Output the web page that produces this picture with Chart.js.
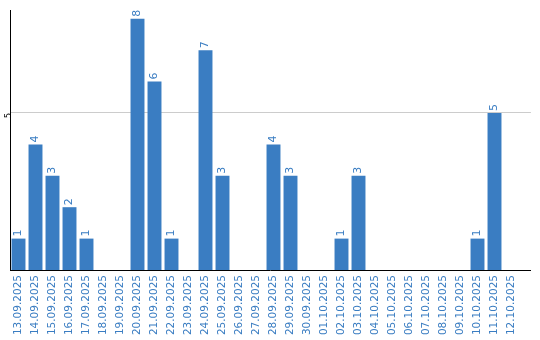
<!DOCTYPE html>
<html lang="de">
<head>
  <meta charset="UTF-8">
  <title>Anzahl pro Tag</title>
  <script src="https://cdn.jsdelivr.net/npm/chart.js@4/dist/chart.umd.min.js"></script>
  <style>
    html, body { margin: 0; padding: 0; background: #fff; }
    #wrap { width: 540px; height: 340px; }
  </style>
</head>
<body>
  <div id="wrap">
    <canvas id="barChart" width="540" height="340"></canvas>
  </div>

  <script>
    // Daten
    const days = [
      '13.09.2025', '14.09.2025', '15.09.2025', '16.09.2025', '17.09.2025',
      '18.09.2025', '19.09.2025', '20.09.2025', '21.09.2025', '22.09.2025',
      '23.09.2025', '24.09.2025', '25.09.2025', '26.09.2025', '27.09.2025',
      '28.09.2025', '29.09.2025', '30.09.2025', '01.10.2025', '02.10.2025',
      '03.10.2025', '04.10.2025', '05.10.2025', '06.10.2025', '07.10.2025',
      '08.10.2025', '09.10.2025', '10.10.2025', '11.10.2025', '12.10.2025'
    ];
    const counts = [1, 4, 3, 2, 1, 0, 0, 8, 6, 1, 0, 7, 3, 0, 0, 4, 3, 0, 0, 1, 3, 0, 0, 0, 0, 0, 0, 1, 5, 0];
    const yTicks = [5];
    const yMax = 8.28;

    const blue = '#3a7dc2';

    // x-Achse läuft rechts etwas über die letzte Kategorie hinaus
    const slotPx = 17;
    const stretchX = {
      id: 'stretchX',
      afterLayout(chart) {
        const x = chart.scales.x;
        x._valueRange = x.width / slotPx;
      }
    };

    // Werte senkrecht über die Balken schreiben
    const valueLabels = {
      id: 'valueLabels',
      afterDatasetsDraw(chart) {
        const ctx = chart.ctx;
        const meta = chart.getDatasetMeta(0);
        ctx.save();
        ctx.fillStyle = blue;
        ctx.font = '11px "DejaVu Sans"';
        ctx.textAlign = 'left';
        ctx.textBaseline = 'middle';
        meta.data.forEach((bar, i) => {
          const v = chart.data.datasets[0].data[i];
          if (!v) return;
          ctx.save();
          ctx.translate(bar.x, bar.y - 2);
          ctx.rotate(-Math.PI / 2);
          ctx.fillText(String(v), 0, 0);
          ctx.restore();
        });
        ctx.restore();
      }
    };

    const chart = new Chart(document.getElementById('barChart'), {
      type: 'bar',
      data: {
        labels: days,
        datasets: [{
          data: counts,
          backgroundColor: blue,
          borderWidth: 0,
          barPercentage: 0.82,
          categoryPercentage: 1.0
        }]
      },
      options: {
        responsive: false,
        animation: false,
        layout: { padding: { top: 10, right: 9, left: 0, bottom: 0 } },
        plugins: {
          legend: { display: false },
          tooltip: { enabled: false }
        },
        scales: {
          x: {
            grid: { display: false, drawTicks: false },
            border: { display: true, color: '#000', width: 1 },
            ticks: {
              color: blue,
              font: { family: 'DejaVu Sans', size: 10.5 },
              minRotation: 90,
              maxRotation: 90,
              autoSkip: false,
              padding: 5
            },
            afterFit(scale) { scale.height = 70; }
          },
          y: {
            min: 0,
            max: yMax,
            afterBuildTicks(scale) {
              scale.ticks = yTicks.map(v => ({ value: v }));
            },
            grid: { color: '#cccccc', drawTicks: false },
            border: { display: true, color: '#000', width: 1 },
            ticks: {
              color: '#000',
              font: { family: 'DejaVu Sans', size: 8 },
              minRotation: 90,
              maxRotation: 90,
              padding: 1
            },
            afterFit(scale) { scale.width = 10; }
          }
        }
      },
      plugins: [stretchX, valueLabels]
    });
  </script>
</body>
</html>
